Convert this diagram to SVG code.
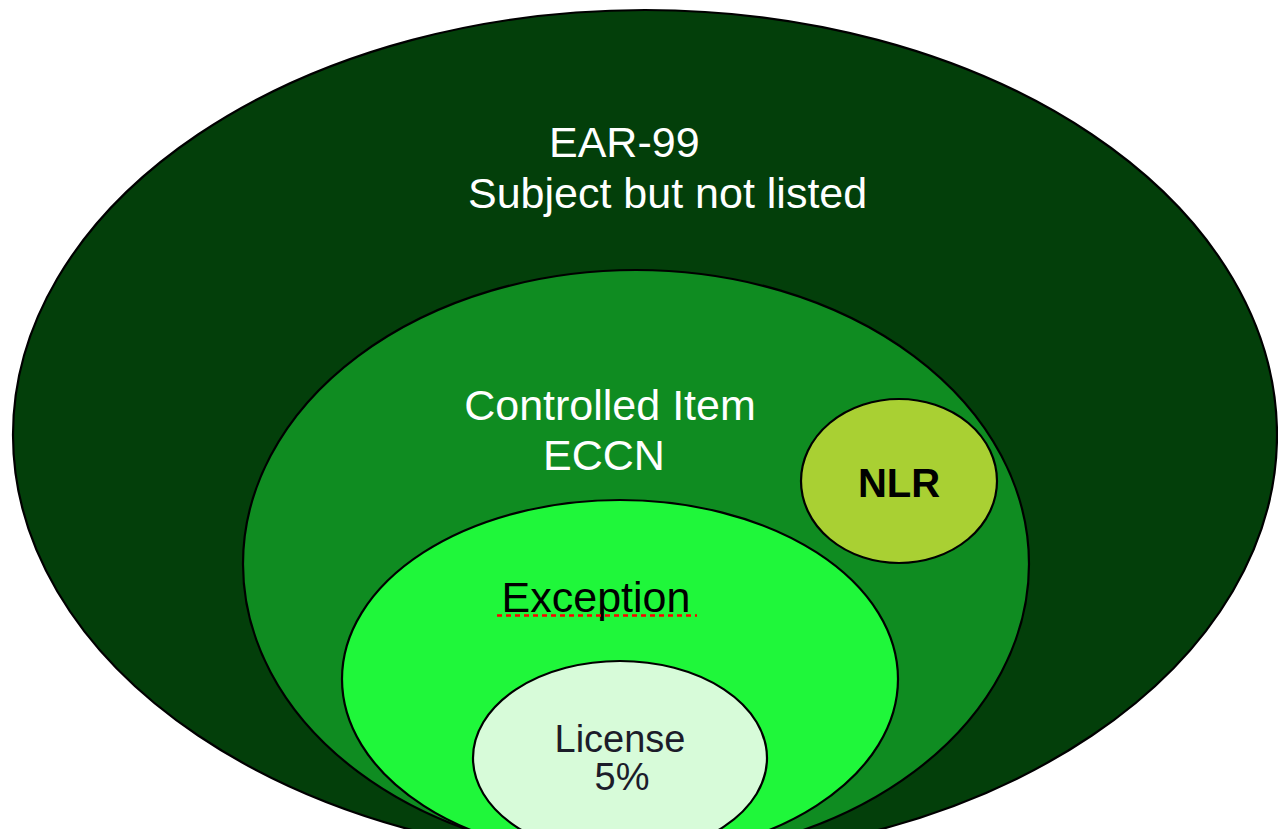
<svg xmlns="http://www.w3.org/2000/svg" width="1278" height="829" viewBox="0 0 1278 829">
<style>
.ring{stroke:#000;stroke-width:2.2}
.lbl{font-family:"Liberation Sans",Arial,sans-serif;font-size:43px}
.w{fill:#ffffff}
.k{fill:#000000}
</style>
<rect width="1278" height="829" fill="#ffffff"/>
<g id="ear99">
<ellipse class="ring" cx="645" cy="435" rx="632" ry="425" fill="#033f0a"/>
<text class="lbl w" x="549" y="157">EAR-99</text>
<text class="lbl w" x="468" y="208">Subject but not listed</text>
</g>
<g id="controlled">
<ellipse class="ring" cx="636" cy="564" rx="393" ry="294" fill="#0f8c21"/>
<text class="lbl w" x="610" y="420" text-anchor="middle">Controlled Item</text>
<text class="lbl w" x="604" y="470" text-anchor="middle">ECCN</text>
</g>
<g id="nlr">
<ellipse class="ring" cx="899" cy="481" rx="98" ry="82" fill="#a9d033"/>
<text class="lbl k" x="899" y="497" text-anchor="middle" font-size="40" font-weight="bold" style="font-size:40px">NLR</text>
</g>
<g id="exception">
<ellipse class="ring" cx="620" cy="679" rx="278" ry="179" fill="#1ff73a"/>
<text class="lbl k" x="596" y="612" text-anchor="middle">Exception</text>
<line x1="497" y1="615.5" x2="697" y2="615.5" stroke="#ff0000" stroke-width="2.5" stroke-dasharray="5 4"/>
</g>
<g id="license">
<ellipse class="ring" cx="620" cy="758" rx="147" ry="97" fill="#d7fbd9"/>
<text class="lbl" x="620" y="752" text-anchor="middle" fill="#1c1c2a" style="font-size:38px">License</text>
<text class="lbl" x="622" y="790" text-anchor="middle" fill="#1c1c2a" style="font-size:38px">5%</text>
</g>
<g id="connectors"></g>
</svg>
